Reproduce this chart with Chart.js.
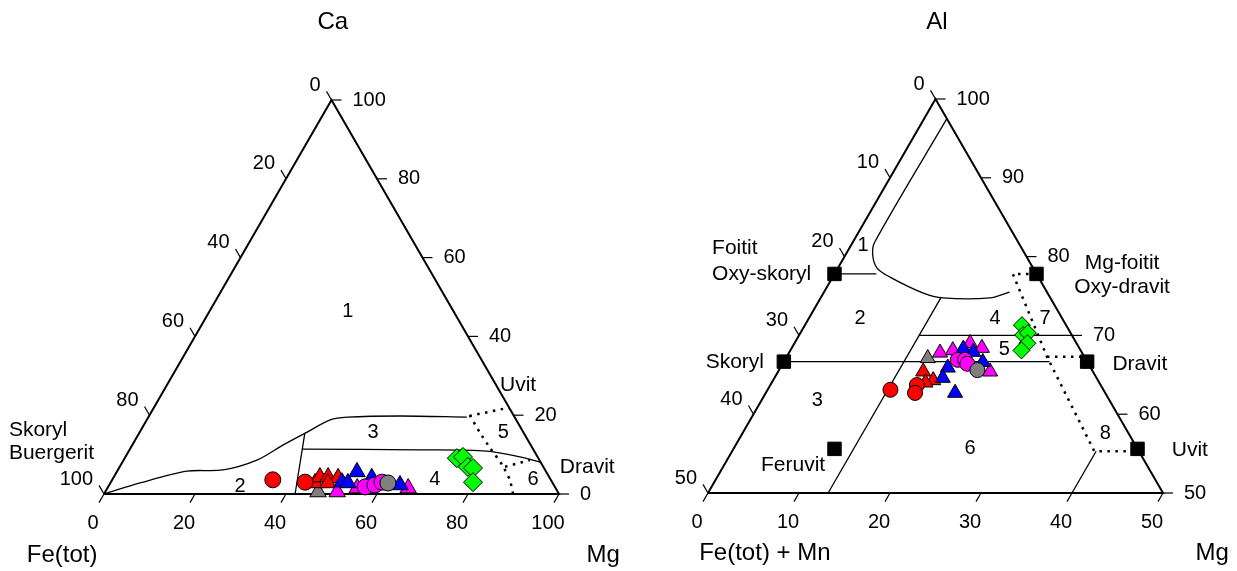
<!DOCTYPE html>
<html><head><meta charset="utf-8">
<script src="https://cdn.jsdelivr.net/npm/chart.js@4.4.1/dist/chart.umd.min.js"></script>
<style>
html,body{margin:0;padding:0;background:#fff;width:1237px;height:571px;overflow:hidden}
#l{position:absolute;left:0;top:0;width:620px;height:571px}
#r{position:absolute;left:620px;top:0;width:617px;height:571px}
</style></head><body>
<div id="l"><canvas id="cl"></canvas></div>
<div id="r"><canvas id="cr"></canvas></div>
<script>
// ===== LEFT DIAGRAM: Ca – Fe(tot) – Mg, values in %  ([Mg, Ca]) =====
const leftTicks = [0,20,40,60,80,100];
const leftRedCircles   = [[35.3,3.6],[42.7,3.0]];
const leftRedTriangles = [[45.0,2.8],[45.3,4.3],[47.1,4.3],[49.4,4.1],[47.8,2.8]];
const leftGrayTriangles= [[46.8,0.5]];
const leftBlueTriangles= [[52.8,5.6],[50.8,3.0],[52.2,2.8],[56.8,4.1],[63.9,2.3]];
const leftMagTriangles = [[51.0,0.5],[54.9,1.5],[66.1,1.5]];
const leftMagCircles   = [[56.5,1.8],[58.4,2.3],[59.6,3.0]];
const leftGrayCircles  = [[61.0,2.8]];
const leftGreenDiamonds= [[73.0,9.1],[74.2,9.4],[76.5,6.9],[77.8,6.6],[79.6,3.0]];
// field boundaries
const leftCurveTop = [[0,0],[6.5,2.8],[15.3,5.8],[23.1,6.1],[29.3,8.6],[33.1,12.4],[36.8,15.7],[40.3,18.8],[43.7,19.5],[55.2,19.8],[70.0,19.5]];
const leftDivider  = [[42.0,0],[36.4,15.5]];
const leftMidLine  = [[37.8,11.4],[63.9,11.2],[78.7,10.9],[86.7,9.4],[91.8,8.1]];
const leftDotTop   = [[70.4,19.8],[76.9,21.6],[78.2,21.8]];
const leftDotMain  = [[70.4,20.0],[74.9,15.5],[79.0,11.7],[83.8,7.4],[87.4,3.6],[89.9,0]];
const leftDotSide  = [[84.7,6.9],[89.3,8.6]];
const leftFields = [["1",30.5,46.2],["2",28.9,2.0],["3",51.4,15.5],["4",70.9,3.6],["5",80.0,15.5],["6",92.5,3.6]];

// ===== RIGHT DIAGRAM: Al – Fe(tot)+Mn – Mg, values in % ([Mg, Al]) =====
const rightTicksMg = [0,10,20,30,40,50];
const rightTicksAl = [100,90,80,70,60,50];
const rightTicksFe = [0,10,20,30,40,50];
const rightRedCircles   = [[13.5,63.1],[16.1,63.7],[16.4,62.7]];
const rightRedTriangles = [[15.95,65.4],[17.6,64.3],[16.9,64.0]];
const rightGrayTriangles= [[15.6,67.1]];
const rightBlueTriangles= [[18.9,68.3],[20.2,67.9],[21.9,66.6],[18.4,65.9],[18.5,64.6],[20.8,62.7]];
const rightMagTriangles = [[19.3,69.0],[16.6,67.8],[17.85,68.1],[20.9,68.4],[23.3,65.4]];
const rightMagCircles   = [[19.0,66.9],[19.8,66.9],[20.3,66.4]];
const rightGrayCircles  = [[21.8,65.6]];
const rightGreenDiamonds= [[23.85,71.3],[24.6,70.05],[25.0,70.3],[25.6,69.0],[25.4,68.1]];
const endMembers = [[0,77.8],[22.2,77.8],[0,66.67],[33.33,66.67],[11.1,55.6],[44.4,55.6]];
const rightInnerCurve = [[2.5,97.5],[2.4,81.85],[3.0,80.2],[4.3,78.55],[6.3,77.4],[10.9,75.4],[13.45,74.75],[18.6,74.75],[20.4,75.5]];
const rightFoititLine = [[0,77.8],[4.6,77.8]];
const rightMgLine     = [[13.2,50],[13.2,74.8]];
const rightAl70       = [[13.2,70],[30,70]];
const rightSkDr       = [[0,66.67],[29.2,66.67]];
const rightSkDrDot    = [[28.6,67.3],[32.8,67.3]];
const rightDotLine    = [[22.2,77.8],[19.6,77.8],[28.6,67.3],[39.8,55.3],[44.4,55.3]];
const rightUvitLine   = [[40,50],[40,55.3]];
const rightFields = [["1",34.1,62.9],["2",33.4,44.4],["3",24.0,23.6],["4",63.1,44.4],["5",65.1,36.3],["6",57.6,11.4],["7",74.1,44.4],["8",87.3,15.2]];

// ===== coordinate transforms (ternary -> chart x/y) =====
const toL = ([mg,ca]) => ({x: mg + ca/2, y: ca});
const toR = ([mg,al]) => ({x: 2*mg + (al-50), y: 2*(al-50)});

const FONT = "'Liberation Sans', Arial, sans-serif";
const TICK_FS = 20, LBL_FS = 21, TITLE_FS = 24;

function markers(data, conv, style, color, r, order){
  return {type:'scatter', data: data.map(conv), pointStyle: style, pointRadius: r, pointHoverRadius: r,
    backgroundColor: color, borderColor:'#000', borderWidth:1, clip:false, order};
}
function line(data, conv, w, dotted, tension){
  return {type:'scatter', data: data.map(conv), showLine:true, pointRadius:0, pointHoverRadius:0,
    borderColor:'#000', borderWidth: w, borderDash: dotted ? [2.5,5.5] : [], tension: tension||0,
    fill:false, clip:false, order: 100};
}

// plugin drawing ticks + texts, positions through chart scales
function annot(cfg){
  return {id:'annot', afterDatasetsDraw(chart){
    const ctx = chart.ctx, sx = chart.scales.x, sy = chart.scales.y;
    const P = p => [sx.getPixelForValue(p.x), sy.getPixelForValue(p.y)];
    ctx.save();
    ctx.strokeStyle = '#000'; ctx.fillStyle = '#000'; ctx.lineWidth = 1.2;
    for (const ax of cfg.axes){
      ax.values.forEach((v,i) => {
        const [px,py] = P(ax.pos(v));
        ctx.beginPath(); ctx.moveTo(px,py); ctx.lineTo(px+ax.dir[0]*10, py+ax.dir[1]*10); ctx.stroke();
        ctx.font = TICK_FS + 'px ' + FONT; ctx.textAlign = ax.align; ctx.textBaseline = 'middle';
        ctx.fillText(String(v), px+ax.off[0], py+ax.off[1]);
      });
    }
    for (const t of cfg.texts){
      const [px,py] = P({x:t[1], y:t[2]});
      ctx.font = (t[3]||LBL_FS) + 'px ' + FONT; ctx.textAlign = t[4]||'center'; ctx.textBaseline = 'middle';
      ctx.fillText(t[0], px, py);
    }
    ctx.restore();
  }};
}

function baseOptions(pad){
  return {responsive:true, maintainAspectRatio:false, animation:false, devicePixelRatio:1,
    layout:{padding:pad},
    plugins:{legend:{display:false}, tooltip:{enabled:false}, title:{display:false}},
    scales:{x:{type:'linear', min:0, max:100, display:false}, y:{type:'linear', min:0, max:100, display:false}},
    events:[]};
}

// ----- LEFT CHART -----
new Chart(document.getElementById('cl'), {
  type:'scatter',
  data:{datasets:[
    markers(leftGreenDiamonds, toL, 'rectRot', '#00FF00', 9.5, 1),
    markers(leftGrayCircles, toL, 'circle', '#808080', 8, 2),
    markers(leftMagCircles, toL, 'circle', '#FF00FF', 8, 3),
    markers(leftBlueTriangles, toL, 'triangle', '#0000FF', 9.5, 4),
    markers(leftMagTriangles, toL, 'triangle', '#FF00FF', 9.5, 5),
    markers(leftRedCircles, toL, 'circle', '#FF0000', 8, 6),
    markers(leftRedTriangles, toL, 'triangle', '#FF0000', 9.5, 7),
    markers(leftGrayTriangles, toL, 'triangle', '#808080', 9.5, 8),
    line([[0,0],[100,0],[0,100],[0,0]], toL, 2, false),
    line(leftCurveTop, toL, 1.3, false, 0.3),
    line(leftDivider, toL, 1.3, false),
    line(leftMidLine, toL, 1.3, false, 0.3),
    line(leftDotTop, toL, 2.5, true),
    line(leftDotMain, toL, 2.5, true, 0.2),
    line(leftDotSide, toL, 2.5, true),
  ]},
  options: baseOptions({left:104, right:61, top:100, bottom:77}),
  plugins:[annot({
    axes:[
      {values:leftTicks, pos:v=>toL([v,0]), dir:[-0.5,0.866], off:[-11,29], align:'center'},
      {values:leftTicks, pos:v=>toL([100-v,v]), dir:[1,0], off:[21,0], align:'left'},
      {values:leftTicks, pos:v=>toL([0,100-v]), dir:[-0.5,-0.866], off:[-11,-15], align:'right'},
    ],
    texts:[
      ...leftFields.map(f => { const p = toL([f[1],f[2]]); return [f[0], p.x, p.y, TICK_FS]; }),
      ["Ca", 50.3, 119.8, TITLE_FS], ["Fe(tot)", -9.2, -15.5, TITLE_FS], ["Mg", 109.7, -15.5, TITLE_FS],
      ["Uvit", 91.0, 27.7], ["Dravit", 106.2, 6.9],
      ["Skoryl", -20.9, 16.2, LBL_FS, 'left'], ["Buergerit", -20.9, 10.4, LBL_FS, 'left'],
    ]})]
});

// ----- RIGHT CHART -----
new Chart(document.getElementById('cr'), {
  type:'scatter',
  data:{datasets:[
    markers(endMembers, toR, 'rect', '#000000', 9.5, 0),
    markers(rightGreenDiamonds, toR, 'rectRot', '#00FF00', 8.5, 1),
    markers(rightGrayCircles, toR, 'circle', '#808080', 7.5, 2),
    markers(rightMagCircles, toR, 'circle', '#FF00FF', 7.5, 3),
    markers(rightBlueTriangles, toR, 'triangle', '#0000FF', 8.7, 4),
    markers(rightMagTriangles, toR, 'triangle', '#FF00FF', 8.7, 5),
    markers(rightRedCircles, toR, 'circle', '#FF0000', 7.5, 6),
    markers(rightRedTriangles, toR, 'triangle', '#FF0000', 8.7, 7),
    markers(rightGrayTriangles, toR, 'triangle', '#808080', 8.7, 8),
    line([[0,50],[50,50],[0,100],[0,50]], toR, 2, false),
    line(rightInnerCurve, toR, 1.3, false, 0.3),
    line(rightFoititLine, toR, 1.3, false),
    line(rightMgLine, toR, 1.3, false),
    line(rightAl70, toR, 1.3, false),
    line(rightSkDr, toR, 1.3, false),
    line(rightSkDrDot, toR, 2.5, true),
    line(rightDotLine, toR, 2.5, true),
    line(rightUvitLine, toR, 1.3, false),
  ]},
  options: baseOptions({left:88, right:74, top:99, bottom:78}),
  plugins:[annot({
    axes:[
      {values:rightTicksMg, pos:v=>toR([v,50]), dir:[-0.5,0.866], off:[-11,29], align:'center'},
      {values:rightTicksAl, pos:v=>toR([100-v,v]), dir:[1,0], off:[21,0], align:'left'},
      {values:rightTicksFe, pos:v=>toR([0,100-v]), dir:[-0.5,-0.866], off:[-11,-15], align:'right'},
    ],
    texts:[
      ...rightFields.map(f => [f[0], f[1], f[2], TICK_FS]),
      ["Al", 50.3, 119.5, TITLE_FS], ["Fe(tot) + Mn", 12.5, -15.2, TITLE_FS], ["Mg", 110.8, -15.2, TITLE_FS],
      ["Foitit", 0.9, 62.2, LBL_FS, 'left'], ["Oxy-skoryl", 0.9, 55.6, LBL_FS, 'left'],
      ["Mg-foitit", 91.0, 58.4], ["Oxy-dravit", 91.0, 52.3],
      ["Skoryl", 5.9, 33.2], ["Dravit", 94.9, 32.7], ["Feruvit", 18.7, 7.1], ["Uvit", 105.9, 10.9],
    ]})]
});
</script>
</body></html>
